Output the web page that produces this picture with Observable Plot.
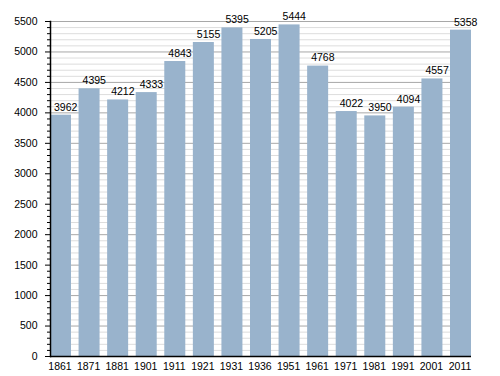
<!DOCTYPE html>
<html><head><meta charset="utf-8">
<script src="https://cdn.jsdelivr.net/npm/d3@7"></script>
<script src="https://cdn.jsdelivr.net/npm/@observablehq/plot@0.6"></script>
<style>body{margin:0;background:#fff}</style>
</head><body><div id="chart"></div>
<script>
const years = ["1861","1871","1881","1901","1911","1921","1931","1936","1951","1961","1971","1981","1991","2001","2011"];
const population = [3962,4395,4212,4333,4843,5155,5395,5205,5444,4768,4022,3950,4094,4557,5358];
const majorTicks = d3.range(0, 5501, 500);
const minorTicks = d3.range(0, 5501, 100).filter(v => v % 500 !== 0);
const data = years.map((y, i) => ({year: y, value: population[i]}));

const chart = Plot.plot({
  width: 500, height: 376,
  marginLeft: 50, marginRight: 29, marginTop: 21, marginBottom: 20,
  style: {fontFamily: "'Liberation Sans', Arial, sans-serif", fontSize: "10.5px", background: "#fff"},
  x: {domain: years, paddingInner: 0.265, paddingOuter: 0, round: false, label: null},
  y: {domain: [0, 5500], label: null},
  marks: [
    Plot.ruleY(minorTicks, {stroke: "#dddddd", strokeWidth: 1}),
    Plot.ruleY(majorTicks.filter(v => v > 0), {stroke: "#a8a8a8", strokeWidth: 1}),
    Plot.barY(data, {x: "year", y: "value", fill: "#99b3cc"}),
    Plot.text(data, {x: "year", y: "value", text: d => String(d.value), textAnchor: "start", dx: -7, dy: -8, fill: "#000", fontSize: 10.5}),
    Plot.axisY({ticks: minorTicks, tickSize: 3, tickFormat: null, text: null, stroke: "#000"}),
    Plot.axisY({ticks: majorTicks, tickSize: 5, tickPadding: 8, tickFormat: d => String(d), fill: "#000", stroke: "#000"}),
    Plot.axisX({tickSize: 0, tickPadding: 6, fill: "#000", dx: -1}),
    Plot.frame({anchor: "left", stroke: "#000", strokeWidth: 1.5}),
    Plot.ruleY([0], {stroke: "#000", strokeWidth: 1.5})
  ]
});
document.getElementById("chart").append(chart);
</script>
</body></html>
